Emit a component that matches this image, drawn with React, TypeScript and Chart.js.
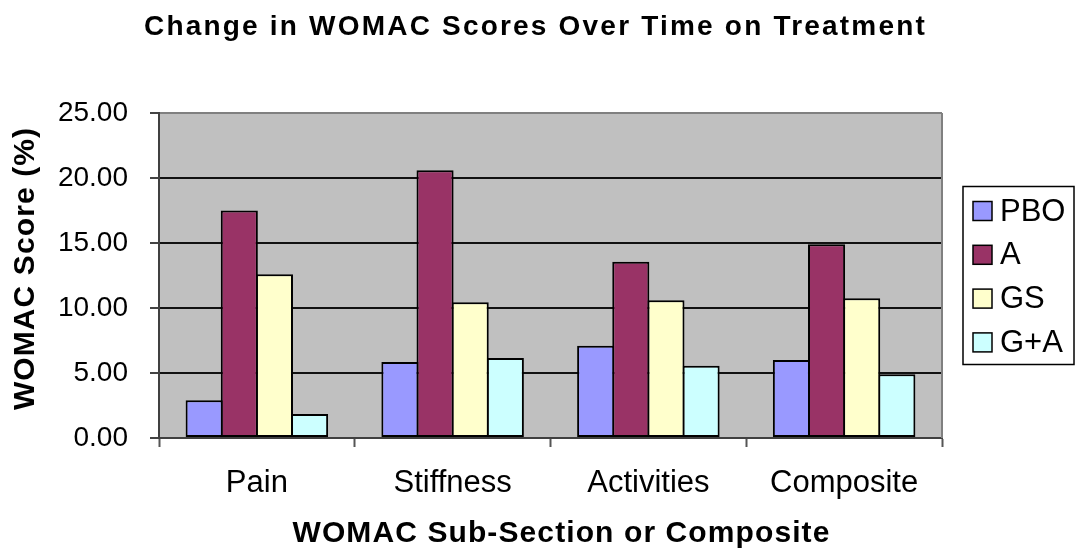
import React, { useEffect, useRef } from 'react';
import { Chart, registerables } from 'chart.js';

Chart.register(...registerables);

const chartTitle = 'Change in WOMAC Scores Over Time on Treatment';
const xTitle = 'WOMAC Sub-Section or Composite';
const yTitle = 'WOMAC Score (%)';

const categories = ['Pain', 'Stiffness', 'Activities', 'Composite'];
const seriesNames = ['PBO', 'A', 'GS', 'G+A'];
const pboValues = [2.9, 5.85, 7.1, 6.0];
const aValues = [17.5, 20.6, 13.55, 14.9];
const gsValues = [12.6, 10.45, 10.6, 10.75];
const gaValues = [1.85, 6.15, 5.55, 4.9];
const seriesColors = ['#9999FF', '#993366', '#FFFFCC', '#CCFFFF'];
const yTickValues = [0, 5, 10, 15, 20, 25];

const FONT = "'Liberation Sans', Arial, sans-serif";

const decorPlugin = {
  id: 'decor',
  beforeDraw(chart: any) {
    const { ctx, chartArea } = chart;
    ctx.save();
    ctx.fillStyle = '#C0C0C0';
    ctx.fillRect(chartArea.left, chartArea.top, chartArea.right - chartArea.left, chartArea.bottom - chartArea.top);
    ctx.restore();

    const tb = chart.titleBlock;
    if (tb && !tb.__patched) {
      const orig = tb.draw.bind(tb);
      tb.draw = (...args: any[]) => {
        ctx.save();
        ctx.letterSpacing = '2.2px';
        ctx.translate(-3, 0);
        orig(...args);
        ctx.restore();
      };
      tb.__patched = true;
    }
    const patches: Record<string, [number, number]> = { x: [11, 0], y: [0, -7] };
    Object.keys(patches).forEach((id) => {
      const s = chart.scales[id];
      if (s && !s.__patched) {
        const orig = s.drawTitle.bind(s);
        const [dx, dy] = patches[id];
        s.drawTitle = (...args: any[]) => {
          ctx.save();
          ctx.letterSpacing = '1.1px';
          ctx.translate(dx, dy);
          orig(...args);
          ctx.restore();
        };
        s.__patched = true;
      }
    });
  },
  beforeDatasetsDraw(chart: any) {
    const { ctx, chartArea } = chart;
    ctx.save();
    ctx.strokeStyle = '#808080';
    ctx.lineWidth = 2;
    ctx.beginPath();
    ctx.moveTo(chartArea.right, chartArea.top);
    ctx.lineTo(chartArea.right, chartArea.bottom);
    ctx.stroke();
    ctx.restore();
  },
  afterDraw(chart: any) {
    const { ctx, chartArea } = chart;
    const left = chartArea.right + 21;
    const width = 111;
    const cy = (chartArea.top + chartArea.bottom) / 2;
    const top = cy - 89;
    const height = 178;
    ctx.save();
    ctx.lineWidth = 1.5;
    ctx.strokeStyle = '#000';
    ctx.strokeRect(left, top, width, height);
    ctx.font = `31px ${FONT}`;
    ctx.textBaseline = 'middle';
    ctx.textAlign = 'left';
    chart.data.datasets.forEach((ds: any, i: number) => {
      const y = top + 24.5 + i * 43.8;
      ctx.fillStyle = ds.backgroundColor;
      ctx.fillRect(left + 10, y - 9.5, 19, 19);
      ctx.strokeRect(left + 10, y - 9.5, 19, 19);
      ctx.fillStyle = '#000';
      ctx.fillText(ds.label, left + 37, y + 1);
    });
    ctx.restore();
  },
};

export default function App() {
  const canvasRef = useRef<HTMLCanvasElement | null>(null);

  useEffect(() => {
    if (!canvasRef.current) return;
    const seriesValues = [pboValues, aValues, gsValues, gaValues];
    const chart = new Chart(canvasRef.current, {
      type: 'bar',
      data: {
        labels: categories,
        datasets: seriesNames.map((name, i) => ({
          label: name,
          data: seriesValues[i],
          backgroundColor: seriesColors[i],
          borderColor: '#000',
          borderWidth: 2,
          borderSkipped: false,
          categoryPercentage: 0.718,
          barPercentage: 1.056,
          yAxisID: 'y',
        })),
      },
      options: {
        responsive: false,
        animation: false,
        layout: { padding: 0 },
        plugins: {
          legend: { display: false },
          tooltip: { enabled: false },
          title: {
            display: true,
            text: chartTitle,
            color: '#000',
            font: { family: FONT, size: 28, weight: 'bold' },
            padding: { top: 10.7, bottom: 68.7 },
          },
        },
        scales: {
          x: {
            type: 'category',
            offset: true,
            grid: {
              display: true,
              offset: true,
              drawOnChartArea: false,
              drawTicks: true,
              tickLength: 9,
              tickColor: '#555',
              tickWidth: 2,
              color: '#555',
            },
            border: { display: true, color: '#404040', width: 2 },
            ticks: {
              color: '#000',
              font: { family: FONT, size: 31 },
              padding: 17.4,
              maxRotation: 0,
            },
            title: {
              display: true,
              text: xTitle,
              color: '#000',
              font: { family: FONT, size: 30, weight: 'bold' },
              padding: { top: 0, bottom: 1 },
            },
            afterFit(s: any) {
              s.height = 115;
            },
          },
          y: {
            type: 'linear',
            position: 'left',
            min: 0,
            max: 25,
            afterBuildTicks(s: any) {
              s.ticks = yTickValues.map((v) => ({ value: v }));
            },
            grid: {
              color: (c: any) => (c.tick && c.tick.value === 25 ? '#808080' : '#111'),
              lineWidth: 2,
              drawTicks: true,
              tickLength: 9,
              tickColor: '#444',
              tickWidth: 2,
            },
            border: { display: true, color: '#404040', width: 2 },
            ticks: {
              color: '#000',
              font: { family: FONT, size: 28 },
              padding: 22,
              callback: (v: any) => Number(v).toFixed(2),
            },
            title: {
              display: true,
              text: yTitle,
              color: '#000',
              font: { family: FONT, size: 30, weight: 'bold' },
              padding: { top: 8, bottom: 0 },
            },
            afterFit(s: any) {
              s.width = 159;
            },
          },
          yR: {
            type: 'linear',
            position: 'right',
            display: true,
            grid: { display: false, drawTicks: false },
            border: { display: false },
            ticks: { display: false },
            afterFit(s: any) {
              s.width = 135;
            },
          },
        },
      },
      plugins: [decorPlugin],
    } as any);
    return () => chart.destroy();
  }, []);

  return (
    <div style={{ position: 'fixed', left: 0, top: 0, width: 1077, height: 553, background: '#fff' }}>
      <canvas ref={canvasRef} width={1077} height={553} style={{ display: 'block' }} />
    </div>
  );
}
